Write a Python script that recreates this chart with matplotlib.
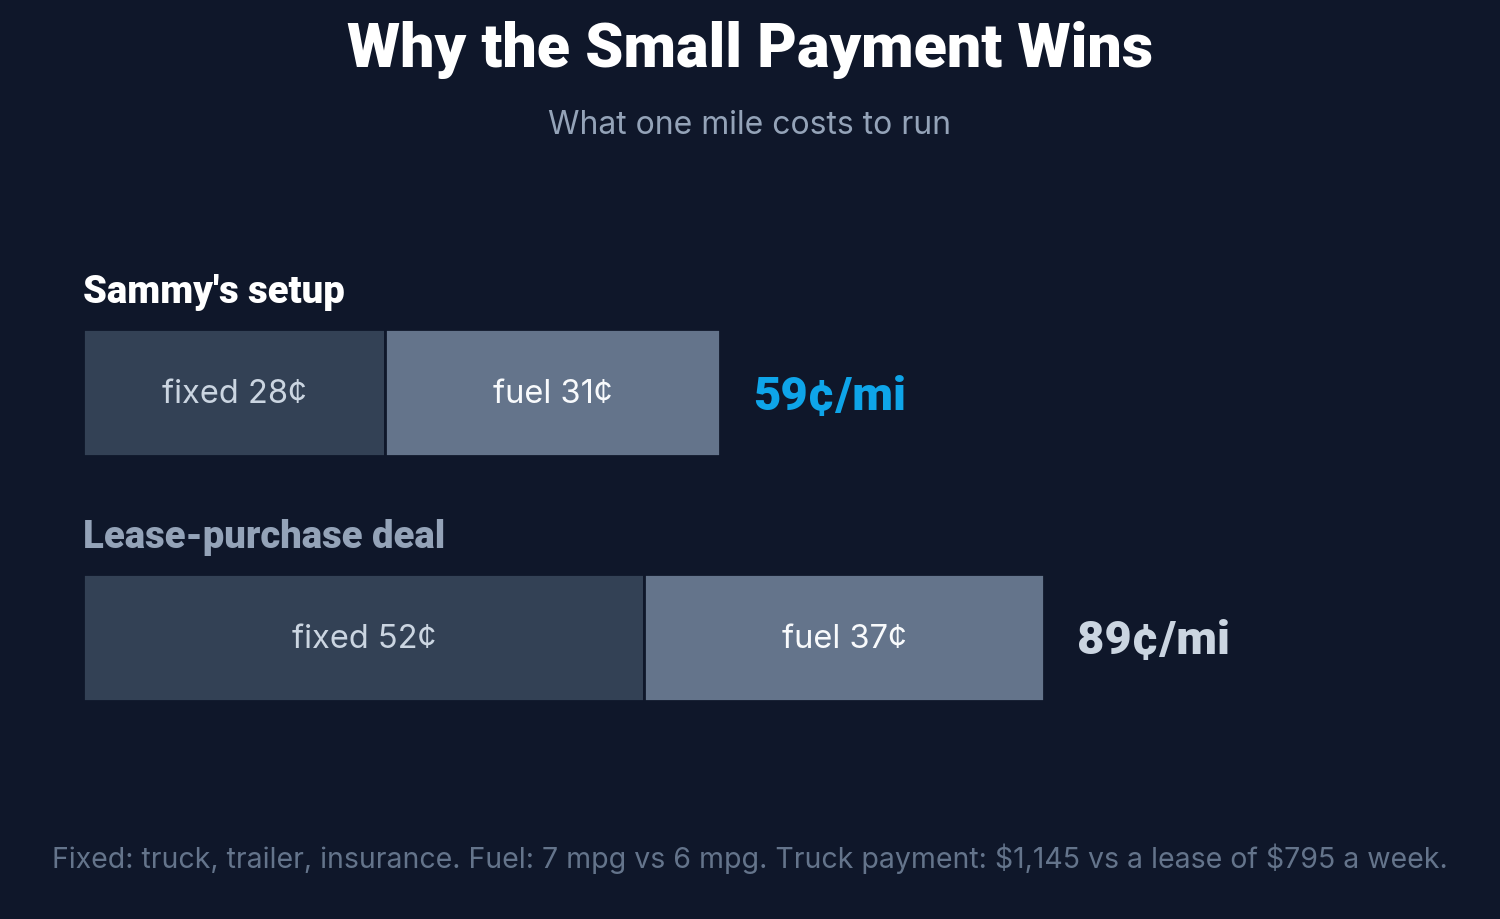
import matplotlib.pyplot as plt

# cents per mile
setups = ["Sammy's setup", "Lease-purchase deal"]
fixed = [28, 52]
fuel = [31, 37]
totals = [59, 89]

BG = '#0f172a'
HEAD = 'Roboto'
BODY = 'Inter'

W, H = 1500, 919
fig = plt.figure(figsize=(W / 100, H / 100), dpi=100, facecolor=BG)

# axes covers whole figure; x in cents, y in pixels from the top
x0, scale = 83.3, 10.79
ax = fig.add_axes([0, 0, 1, 1])
ax.set_facecolor(BG)
ax.set_xlim(-x0 / scale, (W - x0) / scale)
ax.set_ylim(H, 0)
ax.axis('off')

bar_y = [392.5, 637.5]
bar_h = 127
label_y = [303, 548]
label_col = ['#ffffff', '#94a3b8']
total_col = ['#0ea5e9', '#cbd5e1']

for i in range(len(setups)):
    ax.barh(bar_y[i], fixed[i], height=bar_h, left=0, color='#334155',
            edgecolor=BG, linewidth=2)
    ax.barh(bar_y[i], fuel[i], height=bar_h, left=fixed[i], color='#64748b',
            edgecolor=BG, linewidth=2)
    ax.text(fixed[i] / 2, bar_y[i] + 2, f'fixed {fixed[i]}\u00a2', ha='center',
            va='center', fontsize=23.5, color='#cbd5e1', family=BODY)
    ax.text(fixed[i] + fuel[i] / 2, bar_y[i] + 2, f'fuel {fuel[i]}\u00a2',
            ha='center', va='center', fontsize=23.5, color='#f8fafc', family=BODY)
    ax.text(totals[i] + 3.1, bar_y[i] + 17, f'{totals[i]}\u00a2/mi',
            ha='left', va='baseline', fontsize=34, color=total_col[i],
            family=HEAD, weight='black')
    ax.text(-0.05, label_y[i], setups[i], ha='left', va='baseline',
            fontsize=27.5, color=label_col[i], family=HEAD, weight='black')

fig.text(0.5, 1 - 67 / H, 'Why the Small Payment Wins', ha='center',
         va='baseline', fontsize=44, color='white', family=HEAD, weight='black')
fig.text(0.5, 1 - 134 / H, 'What one mile costs to run', ha='center',
         va='baseline', fontsize=23, color='#94a3b8', family=BODY)
fig.text(0.5, 1 - 868 / H,
         r'Fixed: truck, trailer, insurance. Fuel: 7 mpg vs 6 mpg. '
         r'Truck payment: \$1,145 vs a lease of \$795 a week.',
         ha='center', va='baseline', fontsize=20.5, color='#64748b', family=BODY)

fig.savefig('out.png', dpi=100, facecolor=BG)
